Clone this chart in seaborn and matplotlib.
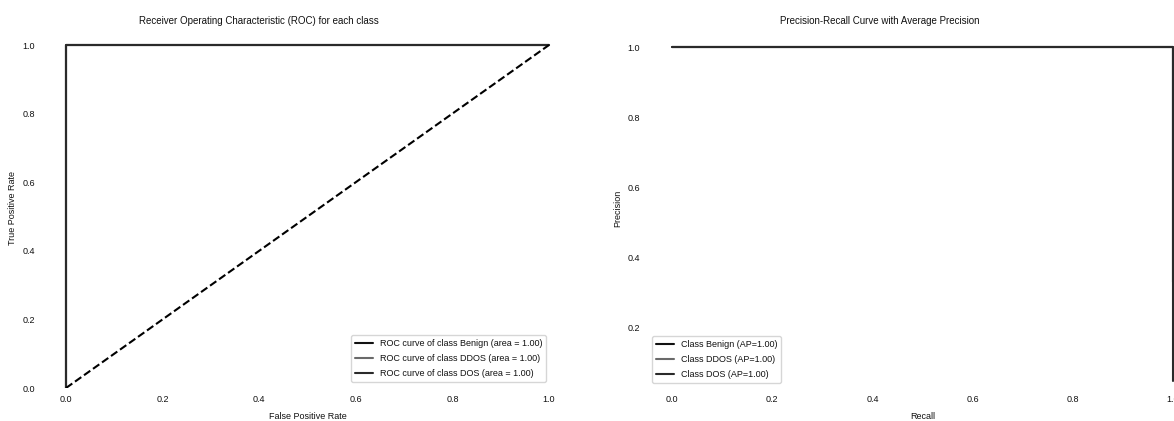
import pandas as pd
import matplotlib
matplotlib.use("Agg")
import matplotlib.pyplot as plt
import seaborn as sns

# ROC points per class (fpr, tpr) - perfect classifier for all three
classes = ['Benign', 'DDOS', 'DOS']
roc_fpr = {'Benign': [0.0, 0.0, 1.0], 'DDOS': [0.0, 0.0, 1.0], 'DOS': [0.0, 0.0, 1.0]}
roc_tpr = {'Benign': [0.0, 1.0, 1.0], 'DDOS': [0.0, 1.0, 1.0], 'DOS': [0.0, 1.0, 1.0]}
roc_auc = [1.00, 1.00, 1.00]

# Precision-recall points per class (recall, precision)
pr_recall = {'Benign': [1.0, 1.0, 0.0], 'DDOS': [1.0, 1.0, 0.0], 'DOS': [1.0, 1.0, 0.0]}
pr_precision = {'Benign': [0.33, 1.0, 1.0], 'DDOS': [0.62, 1.0, 1.0], 'DOS': [0.046, 1.0, 1.0]}
avg_precision = [1.00, 1.00, 1.00]

line_colors = ['#111111', '#6a6a6a', '#2a2a2a']

sns.set_style("white")
plt.rcParams['font.family'] = ['Liberation Sans', 'DejaVu Sans']
plt.rcParams['text.color'] = '#111111'
plt.rcParams['axes.labelcolor'] = '#111111'
plt.rcParams['xtick.color'] = '#111111'
plt.rcParams['ytick.color'] = '#111111'

W, H = 1174, 421
fig = plt.figure(figsize=(W / 100, H / 100), dpi=100)
# axes placed in pixels: (left, bottom, width, height)
ax1 = fig.add_axes([41.85 / W, (H - 388) / H, 531.3 / W, 360.15 / H])
ax2 = fig.add_axes([647 / W, (H - 388) / H, 551 / W, 358.4 / H])

# --- ROC ---
rows = []
for c, auc in zip(classes, roc_auc):
    lab = f"ROC curve of class {c} (area = {auc:.2f})"
    for x, y in zip(roc_fpr[c], roc_tpr[c]):
        rows.append({'fpr': x, 'tpr': y, 'label': lab})
roc_df = pd.DataFrame(rows)
sns.lineplot(data=roc_df, x='fpr', y='tpr', hue='label', palette=line_colors,
             estimator=None, sort=False, linewidth=1.5, ax=ax1)
ax1.plot([0, 1], [0, 1], 'k--', lw=1.5)
ax1.set_xlim(-0.05, 1.05)
ax1.set_ylim(0.0, 1.05)
ax1.set_xlabel('False Positive Rate', fontsize=6.5, labelpad=6)
ax1.set_ylabel('True Positive Rate', fontsize=6.5, labelpad=4)
ax1.set_title('Receiver Operating Characteristic (ROC) for each class',
              fontsize=7, pad=3, x=0.409)
ax1.legend(loc='lower right', bbox_to_anchor=(546 / W, 39 / H),
           bbox_transform=fig.transFigure, borderaxespad=0, fontsize=6.5,
           labelspacing=0.7, handlelength=2.0, frameon=True)

# --- Precision-Recall ---
rows = []
for c, ap in zip(classes, avg_precision):
    lab = f"Class {c} (AP={ap:.2f})"
    for x, y in zip(pr_recall[c], pr_precision[c]):
        rows.append({'recall': x, 'precision': y, 'label': lab})
pr_df = pd.DataFrame(rows)
sns.lineplot(data=pr_df, x='recall', y='precision', hue='label', palette=line_colors,
             estimator=None, sort=False, linewidth=1.5, ax=ax2)
ax2.set_xlim(-0.05, 1.05)
ax2.set_ylim(0.026, 1.05)
ax2.set_yticks([0.2, 0.4, 0.6, 0.8, 1.0])
ax2.set_xlabel('Recall', fontsize=6.5, labelpad=6)
ax2.set_ylabel('Precision', fontsize=6.5, labelpad=4)
ax2.set_title('Precision-Recall Curve with Average Precision',
              fontsize=7, pad=4, x=0.423)
ax2.legend(loc='lower left', bbox_to_anchor=(652 / W, 38 / H),
           bbox_transform=fig.transFigure, borderaxespad=0, fontsize=6.5,
           labelspacing=0.7, handlelength=2.0, frameon=True)

for ax in (ax1, ax2):
    ax.tick_params(labelsize=6.5, length=0, pad=5)
    sns.despine(ax=ax, left=True, bottom=True)

fig.savefig('out.png', dpi=100)
